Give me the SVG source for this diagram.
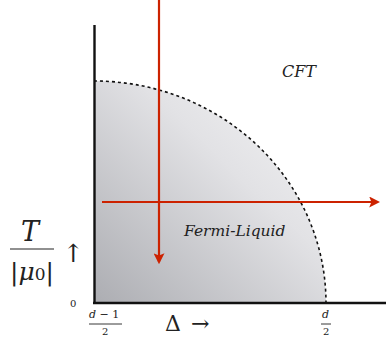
<svg xmlns="http://www.w3.org/2000/svg" width="386" height="338" viewBox="0 0 386 338">
<style>
.red{stroke:#cc2200;stroke-width:2.2;fill:none}
text{fill:#222}
</style>
<defs>
<linearGradient id="g" x1="0" y1="1" x2="1" y2="0">
<stop offset="0" stop-color="#acadb2"/>
<stop offset="0.6" stop-color="#e2e2e5"/>
<stop offset="1" stop-color="#f6f6f7"/>
</linearGradient>
<marker id="ah" viewBox="0 0 10 10" refX="8" refY="5" markerWidth="5" markerHeight="5" orient="auto" markerUnits="strokeWidth">
<path d="M0,0 L10,5 L0,10 L2,5 Z" fill="#cc2200"/>
</marker>
</defs>
<g id="region">
<path d="M94,303 L94,81 A232,222 0 0 1 326,303 Z" fill="url(#g)"/>
<path d="M94,81 A232,222 0 0 1 326,303" fill="none" stroke="#111" stroke-width="1.6" stroke-dasharray="3,3"/>
</g>
<g id="axes">
<line x1="94.5" y1="25" x2="94.5" y2="304" stroke="#111" stroke-width="2.4"/>
<line x1="93" y1="303" x2="386" y2="303" stroke="#111" stroke-width="2.4"/>
</g>
<g id="connectors">
<line class="red" x1="159" y1="0" x2="159" y2="262" marker-end="url(#ah)"/>
<line class="red" x1="102" y1="202" x2="378" y2="202" marker-end="url(#ah)"/>
</g>
<g id="labels" font-family="DejaVu Serif, serif">
<text x="282" y="77" font-size="16" font-style="italic">CFT</text>
<text x="184" y="236" font-size="15.5" font-style="italic">Fermi-Liquid</text>
<text x="21" y="241" font-size="27" font-style="italic">T</text>
<line x1="10" y1="249" x2="54" y2="249" stroke="#222" stroke-width="1.2"/>
<text x="10" y="280" font-size="25">|<tspan font-style="italic">μ</tspan><tspan font-size="17">0</tspan>|</text>
<text x="63" y="262" font-size="25">↑</text>
<text x="70" y="307" font-size="10">0</text>
<text x="89" y="318" font-size="11"><tspan font-style="italic">d</tspan> − 1</text>
<line x1="89" y1="324" x2="122" y2="324" stroke="#222" stroke-width="0.9"/>
<text x="102" y="335" font-size="10">2</text>
<text x="322" y="318" font-size="11" font-style="italic">d</text>
<line x1="321" y1="324" x2="331" y2="324" stroke="#222" stroke-width="0.9"/>
<text x="323" y="335" font-size="10">2</text>
<text x="165" y="331" font-size="22">Δ <tspan dx="3">→</tspan></text>
</g>
</svg>
